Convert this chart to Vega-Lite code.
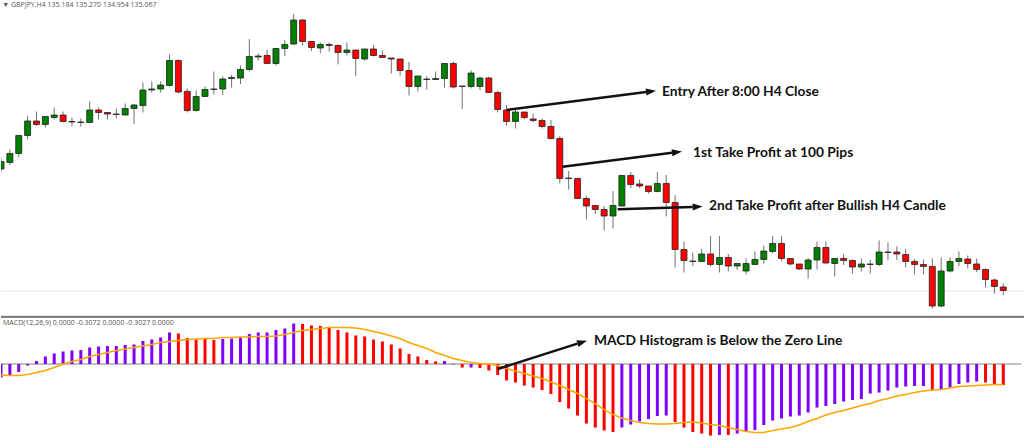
{
  "$schema": "https://vega.github.io/schema/vega-lite/v6.json",
  "background": "white",
  "padding": 0,
  "spacing": 0,
  "config": {"view": {"stroke": null}, "axis": {"disable": true}, "concat": {"spacing": 0}},
  "datasets": {
    "candles": [
      {"i":0,"o":138.075,"h":138.35,"l":138.0,"c":138.263},
      {"i":1,"o":138.238,"h":138.563,"l":138.175,"c":138.463},
      {"i":2,"o":138.463,"h":138.925,"l":138.363,"c":138.913},
      {"i":3,"o":138.913,"h":139.4,"l":138.813,"c":139.275},
      {"i":4,"o":139.275,"h":139.513,"l":139.15,"c":139.188},
      {"i":5,"o":139.188,"h":139.4,"l":139.113,"c":139.388},
      {"i":6,"o":139.363,"h":139.613,"l":139.313,"c":139.425},
      {"i":7,"o":139.425,"h":139.513,"l":139.238,"c":139.263},
      {"i":8,"o":139.25,"h":139.363,"l":139.138,"c":139.263},
      {"i":9,"o":139.238,"h":139.338,"l":139.138,"c":139.25},
      {"i":10,"o":139.238,"h":139.763,"l":139.238,"c":139.55},
      {"i":11,"o":139.55,"h":139.613,"l":139.313,"c":139.488},
      {"i":12,"o":139.488,"h":139.488,"l":139.313,"c":139.45},
      {"i":13,"o":139.438,"h":139.588,"l":139.338,"c":139.45},
      {"i":14,"o":139.425,"h":139.713,"l":139.425,"c":139.588},
      {"i":15,"o":139.588,"h":139.7,"l":139.2,"c":139.675},
      {"i":16,"o":139.663,"h":140.238,"l":139.488,"c":140.05},
      {"i":17,"o":140.05,"h":140.263,"l":139.988,"c":140.075},
      {"i":18,"o":140.075,"h":140.263,"l":139.988,"c":140.175},
      {"i":19,"o":140.163,"h":140.938,"l":140.138,"c":140.788},
      {"i":20,"o":140.788,"h":140.813,"l":139.963,"c":140.0},
      {"i":21,"o":140.013,"h":140.088,"l":139.488,"c":139.538},
      {"i":22,"o":139.538,"h":140.038,"l":139.513,"c":139.888},
      {"i":23,"o":139.888,"h":140.138,"l":139.888,"c":140.063},
      {"i":24,"o":140.063,"h":140.513,"l":139.938,"c":140.075},
      {"i":25,"o":140.075,"h":140.388,"l":139.925,"c":140.325},
      {"i":26,"o":140.338,"h":140.425,"l":140.113,"c":140.363},
      {"i":27,"o":140.35,"h":140.663,"l":140.2,"c":140.563},
      {"i":28,"o":140.563,"h":141.325,"l":140.513,"c":140.888},
      {"i":29,"o":140.875,"h":140.963,"l":140.788,"c":140.9},
      {"i":30,"o":140.913,"h":141.05,"l":140.713,"c":140.713},
      {"i":31,"o":140.713,"h":141.1,"l":140.663,"c":141.088},
      {"i":32,"o":141.088,"h":141.3,"l":140.9,"c":141.188},
      {"i":33,"o":141.2,"h":141.95,"l":141.175,"c":141.8},
      {"i":34,"o":141.8,"h":141.825,"l":141.163,"c":141.263},
      {"i":35,"o":141.263,"h":141.275,"l":141.025,"c":141.113},
      {"i":36,"o":141.1,"h":141.238,"l":140.963,"c":141.188},
      {"i":37,"o":141.188,"h":141.238,"l":141.013,"c":141.163},
      {"i":38,"o":141.163,"h":141.188,"l":140.688,"c":140.988},
      {"i":39,"o":140.988,"h":141.238,"l":140.913,"c":141.05},
      {"i":40,"o":141.05,"h":141.05,"l":140.4,"c":140.838},
      {"i":41,"o":140.825,"h":141.075,"l":140.788,"c":141.075},
      {"i":42,"o":141.075,"h":141.175,"l":140.888,"c":140.913},
      {"i":43,"o":140.913,"h":141.038,"l":140.85,"c":140.863},
      {"i":44,"o":140.85,"h":140.85,"l":140.463,"c":140.825},
      {"i":45,"o":140.825,"h":140.825,"l":140.413,"c":140.538},
      {"i":46,"o":140.538,"h":140.75,"l":139.913,"c":140.138},
      {"i":47,"o":140.138,"h":140.4,"l":140.013,"c":140.4},
      {"i":48,"o":140.313,"h":140.4,"l":140.063,"c":140.325},
      {"i":49,"o":140.313,"h":140.513,"l":140.3,"c":140.338},
      {"i":50,"o":140.338,"h":140.725,"l":140.113,"c":140.713},
      {"i":51,"o":140.713,"h":140.763,"l":140.088,"c":140.125},
      {"i":52,"o":140.15,"h":140.15,"l":139.575,"c":140.138},
      {"i":53,"o":140.138,"h":140.538,"l":140.088,"c":140.475},
      {"i":54,"o":140.138,"h":140.388,"l":140.05,"c":140.35},
      {"i":55,"o":140.35,"h":140.388,"l":139.988,"c":139.988},
      {"i":56,"o":139.988,"h":140.025,"l":139.488,"c":139.563},
      {"i":57,"o":139.55,"h":139.675,"l":139.15,"c":139.263},
      {"i":58,"o":139.263,"h":139.55,"l":139.088,"c":139.5},
      {"i":59,"o":139.5,"h":139.5,"l":139.325,"c":139.363},
      {"i":60,"o":139.325,"h":139.463,"l":139.238,"c":139.288},
      {"i":61,"o":139.288,"h":139.338,"l":139.088,"c":139.138},
      {"i":62,"o":139.138,"h":139.3,"l":138.813,"c":138.838},
      {"i":63,"o":138.838,"h":138.9,"l":137.713,"c":137.838},
      {"i":64,"o":137.85,"h":138.025,"l":137.563,"c":137.838},
      {"i":65,"o":137.838,"h":137.85,"l":137.325,"c":137.338},
      {"i":66,"o":137.338,"h":137.4,"l":136.813,"c":137.15},
      {"i":67,"o":137.163,"h":137.175,"l":136.95,"c":137.063},
      {"i":68,"o":137.063,"h":137.15,"l":136.538,"c":136.9},
      {"i":69,"o":136.9,"h":137.525,"l":136.588,"c":137.163},
      {"i":70,"o":137.15,"h":137.925,"l":137.15,"c":137.913},
      {"i":71,"o":137.913,"h":138.0,"l":137.6,"c":137.688},
      {"i":72,"o":137.7,"h":137.813,"l":137.6,"c":137.65},
      {"i":73,"o":137.65,"h":137.65,"l":137.463,"c":137.513},
      {"i":74,"o":137.513,"h":138.0,"l":137.488,"c":137.713},
      {"i":75,"o":137.713,"h":137.925,"l":136.888,"c":137.238},
      {"i":76,"o":137.238,"h":137.425,"l":135.613,"c":136.063},
      {"i":77,"o":136.063,"h":136.263,"l":135.488,"c":135.788},
      {"i":78,"o":135.763,"h":135.988,"l":135.65,"c":135.775},
      {"i":79,"o":135.763,"h":136.075,"l":135.75,"c":135.95},
      {"i":80,"o":135.95,"h":136.4,"l":135.638,"c":135.688},
      {"i":81,"o":135.688,"h":136.4,"l":135.488,"c":135.863},
      {"i":82,"o":135.863,"h":135.95,"l":135.513,"c":135.65},
      {"i":83,"o":135.65,"h":135.725,"l":135.55,"c":135.713},
      {"i":84,"o":135.525,"h":135.838,"l":135.438,"c":135.713},
      {"i":85,"o":135.688,"h":136.013,"l":135.688,"c":135.813},
      {"i":86,"o":135.813,"h":136.163,"l":135.713,"c":136.025},
      {"i":87,"o":136.013,"h":136.4,"l":135.963,"c":136.213},
      {"i":88,"o":136.213,"h":136.4,"l":135.763,"c":135.838},
      {"i":89,"o":135.838,"h":135.85,"l":135.663,"c":135.7},
      {"i":90,"o":135.7,"h":135.7,"l":135.55,"c":135.575},
      {"i":91,"o":135.575,"h":135.85,"l":135.338,"c":135.8},
      {"i":92,"o":135.8,"h":136.263,"l":135.563,"c":136.113},
      {"i":93,"o":136.113,"h":136.263,"l":135.713,"c":135.725},
      {"i":94,"o":135.713,"h":135.85,"l":135.388,"c":135.838},
      {"i":95,"o":135.838,"h":135.95,"l":135.675,"c":135.788},
      {"i":96,"o":135.788,"h":135.813,"l":135.463,"c":135.625},
      {"i":97,"o":135.625,"h":135.838,"l":135.513,"c":135.7},
      {"i":98,"o":135.688,"h":135.8,"l":135.463,"c":135.7},
      {"i":99,"o":135.688,"h":136.288,"l":135.65,"c":136.0},
      {"i":100,"o":135.988,"h":136.238,"l":135.8,"c":136.0},
      {"i":101,"o":136.0,"h":136.138,"l":135.8,"c":135.95},
      {"i":102,"o":135.938,"h":136.075,"l":135.613,"c":135.763},
      {"i":103,"o":135.763,"h":135.825,"l":135.438,"c":135.688},
      {"i":104,"o":135.688,"h":135.813,"l":135.438,"c":135.638},
      {"i":105,"o":135.638,"h":135.838,"l":134.588,"c":134.65},
      {"i":106,"o":134.65,"h":135.863,"l":134.613,"c":135.525},
      {"i":107,"o":135.525,"h":135.863,"l":135.488,"c":135.763},
      {"i":108,"o":135.763,"h":136.013,"l":135.65,"c":135.838},
      {"i":109,"o":135.825,"h":135.913,"l":135.588,"c":135.713},
      {"i":110,"o":135.7,"h":135.838,"l":135.5,"c":135.563},
      {"i":111,"o":135.563,"h":135.588,"l":135.113,"c":135.313},
      {"i":112,"o":135.3,"h":135.338,"l":134.963,"c":135.138},
      {"i":113,"o":135.125,"h":135.213,"l":134.925,"c":135.038}
    ],
    "macd": [
      {"i":0,"hist":-0.203,"signal":-0.165,"trend":"up"},
      {"i":1,"hist":-0.165,"signal":-0.173,"trend":"up"},
      {"i":2,"hist":-0.12,"signal":-0.173,"trend":"up"},
      {"i":3,"hist":-0.023,"signal":-0.158,"trend":"up"},
      {"i":4,"hist":0.045,"signal":-0.128,"trend":"up"},
      {"i":5,"hist":0.113,"signal":-0.098,"trend":"up"},
      {"i":6,"hist":0.158,"signal":-0.053,"trend":"up"},
      {"i":7,"hist":0.188,"signal":0,"trend":"up"},
      {"i":8,"hist":0.203,"signal":0.038,"trend":"up"},
      {"i":9,"hist":0.21,"signal":0.068,"trend":"up"},
      {"i":10,"hist":0.248,"signal":0.113,"trend":"up"},
      {"i":11,"hist":0.263,"signal":0.143,"trend":"up"},
      {"i":12,"hist":0.27,"signal":0.173,"trend":"up"},
      {"i":13,"hist":0.27,"signal":0.203,"trend":"up"},
      {"i":14,"hist":0.285,"signal":0.225,"trend":"up"},
      {"i":15,"hist":0.293,"signal":0.248,"trend":"up"},
      {"i":16,"hist":0.345,"signal":0.27,"trend":"up"},
      {"i":17,"hist":0.368,"signal":0.293,"trend":"up"},
      {"i":18,"hist":0.398,"signal":0.323,"trend":"up"},
      {"i":19,"hist":0.473,"signal":0.338,"trend":"up"},
      {"i":20,"hist":0.458,"signal":0.353,"trend":"down"},
      {"i":21,"hist":0.39,"signal":0.368,"trend":"down"},
      {"i":22,"hist":0.368,"signal":0.375,"trend":"down"},
      {"i":23,"hist":0.375,"signal":0.383,"trend":"down"},
      {"i":24,"hist":0.36,"signal":0.383,"trend":"down"},
      {"i":25,"hist":0.375,"signal":0.398,"trend":"up"},
      {"i":26,"hist":0.383,"signal":0.398,"trend":"up"},
      {"i":27,"hist":0.398,"signal":0.405,"trend":"up"},
      {"i":28,"hist":0.45,"signal":0.405,"trend":"up"},
      {"i":29,"hist":0.473,"signal":0.413,"trend":"up"},
      {"i":30,"hist":0.473,"signal":0.413,"trend":"up"},
      {"i":31,"hist":0.51,"signal":0.42,"trend":"up"},
      {"i":32,"hist":0.533,"signal":0.443,"trend":"up"},
      {"i":33,"hist":0.608,"signal":0.473,"trend":"up"},
      {"i":34,"hist":0.6,"signal":0.503,"trend":"down"},
      {"i":35,"hist":0.578,"signal":0.518,"trend":"down"},
      {"i":36,"hist":0.57,"signal":0.533,"trend":"down"},
      {"i":37,"hist":0.54,"signal":0.548,"trend":"down"},
      {"i":38,"hist":0.51,"signal":0.548,"trend":"down"},
      {"i":39,"hist":0.473,"signal":0.548,"trend":"down"},
      {"i":40,"hist":0.428,"signal":0.54,"trend":"down"},
      {"i":41,"hist":0.413,"signal":0.518,"trend":"down"},
      {"i":42,"hist":0.368,"signal":0.488,"trend":"down"},
      {"i":43,"hist":0.338,"signal":0.458,"trend":"down"},
      {"i":44,"hist":0.293,"signal":0.42,"trend":"down"},
      {"i":45,"hist":0.233,"signal":0.383,"trend":"down"},
      {"i":46,"hist":0.15,"signal":0.323,"trend":"down"},
      {"i":47,"hist":0.113,"signal":0.278,"trend":"down"},
      {"i":48,"hist":0.06,"signal":0.233,"trend":"down"},
      {"i":49,"hist":0.038,"signal":0.173,"trend":"down"},
      {"i":50,"hist":0.045,"signal":0.128,"trend":"up"},
      {"i":51,"hist":-0.008,"signal":0.083,"trend":"down"},
      {"i":52,"hist":-0.053,"signal":0.053,"trend":"down"},
      {"i":53,"hist":-0.053,"signal":0.023,"trend":"up"},
      {"i":54,"hist":-0.06,"signal":0.008,"trend":"down"},
      {"i":55,"hist":-0.098,"signal":0,"trend":"down"},
      {"i":56,"hist":-0.165,"signal":-0.023,"trend":"down"},
      {"i":57,"hist":-0.248,"signal":-0.068,"trend":"down"},
      {"i":58,"hist":-0.278,"signal":-0.105,"trend":"down"},
      {"i":59,"hist":-0.323,"signal":-0.143,"trend":"down"},
      {"i":60,"hist":-0.353,"signal":-0.18,"trend":"down"},
      {"i":61,"hist":-0.39,"signal":-0.218,"trend":"down"},
      {"i":62,"hist":-0.45,"signal":-0.27,"trend":"down"},
      {"i":63,"hist":-0.57,"signal":-0.323,"trend":"down"},
      {"i":64,"hist":-0.668,"signal":-0.383,"trend":"down"},
      {"i":65,"hist":-0.773,"signal":-0.443,"trend":"down"},
      {"i":66,"hist":-0.893,"signal":-0.518,"trend":"down"},
      {"i":67,"hist":-0.953,"signal":-0.593,"trend":"down"},
      {"i":68,"hist":-0.998,"signal":-0.683,"trend":"down"},
      {"i":69,"hist":-1.02,"signal":-0.758,"trend":"down"},
      {"i":70,"hist":-0.953,"signal":-0.81,"trend":"up"},
      {"i":71,"hist":-0.908,"signal":-0.848,"trend":"up"},
      {"i":72,"hist":-0.863,"signal":-0.878,"trend":"up"},
      {"i":73,"hist":-0.825,"signal":-0.893,"trend":"up"},
      {"i":74,"hist":-0.78,"signal":-0.9,"trend":"up"},
      {"i":75,"hist":-0.773,"signal":-0.9,"trend":"up"},
      {"i":76,"hist":-0.87,"signal":-0.893,"trend":"down"},
      {"i":77,"hist":-0.953,"signal":-0.878,"trend":"down"},
      {"i":78,"hist":-1.02,"signal":-0.87,"trend":"down"},
      {"i":79,"hist":-1.043,"signal":-0.885,"trend":"down"},
      {"i":80,"hist":-1.073,"signal":-0.908,"trend":"down"},
      {"i":81,"hist":-1.065,"signal":-0.923,"trend":"up"},
      {"i":82,"hist":-1.065,"signal":-0.953,"trend":"down"},
      {"i":83,"hist":-1.043,"signal":-0.983,"trend":"up"},
      {"i":84,"hist":-1.02,"signal":-1.013,"trend":"up"},
      {"i":85,"hist":-0.99,"signal":-1.028,"trend":"up"},
      {"i":86,"hist":-0.915,"signal":-1.028,"trend":"up"},
      {"i":87,"hist":-0.848,"signal":-0.998,"trend":"up"},
      {"i":88,"hist":-0.818,"signal":-0.975,"trend":"up"},
      {"i":89,"hist":-0.788,"signal":-0.953,"trend":"up"},
      {"i":90,"hist":-0.773,"signal":-0.915,"trend":"up"},
      {"i":91,"hist":-0.728,"signal":-0.863,"trend":"up"},
      {"i":92,"hist":-0.653,"signal":-0.818,"trend":"up"},
      {"i":93,"hist":-0.63,"signal":-0.765,"trend":"up"},
      {"i":94,"hist":-0.6,"signal":-0.728,"trend":"up"},
      {"i":95,"hist":-0.563,"signal":-0.698,"trend":"up"},
      {"i":96,"hist":-0.54,"signal":-0.66,"trend":"up"},
      {"i":97,"hist":-0.525,"signal":-0.623,"trend":"up"},
      {"i":98,"hist":-0.443,"signal":-0.593,"trend":"up"},
      {"i":99,"hist":-0.428,"signal":-0.548,"trend":"up"},
      {"i":100,"hist":-0.398,"signal":-0.518,"trend":"up"},
      {"i":101,"hist":-0.353,"signal":-0.48,"trend":"up"},
      {"i":102,"hist":-0.338,"signal":-0.458,"trend":"up"},
      {"i":103,"hist":-0.33,"signal":-0.428,"trend":"up"},
      {"i":104,"hist":-0.33,"signal":-0.405,"trend":"up"},
      {"i":105,"hist":-0.398,"signal":-0.39,"trend":"down"},
      {"i":106,"hist":-0.383,"signal":-0.383,"trend":"up"},
      {"i":107,"hist":-0.353,"signal":-0.36,"trend":"up"},
      {"i":108,"hist":-0.3,"signal":-0.338,"trend":"up"},
      {"i":109,"hist":-0.278,"signal":-0.33,"trend":"up"},
      {"i":110,"hist":-0.263,"signal":-0.323,"trend":"up"},
      {"i":111,"hist":-0.278,"signal":-0.315,"trend":"down"},
      {"i":112,"hist":-0.3,"signal":-0.308,"trend":"down"},
      {"i":113,"hist":-0.315,"signal":-0.308,"trend":"down"}
    ],
    "priceArrows": [
      {"x1":57.01,"p1":139.55,"x2":72.73,"p2":140.0},
      {"x1":63.33,"p1":138.133,"x2":75.65,"p2":138.48},
      {"x1":69.53,"p1":137.068,"x2":77.98,"p2":137.128}
    ],
    "priceNotes": [
      {"x":74.52,"p":140.0,"note":"Entry After 8:00 H4 Close"},
      {"x":78.02,"p":138.475,"note":"1st Take Profit at 100 Pips"},
      {"x":79.82,"p":137.15,"note":"2nd Take Profit after Bullish H4 Candle"}
    ],
    "macdArrows": [
      {"x1":56.0,"p1":-0.075,"x2":64.99,"p2":0.305}
    ],
    "macdNotes": [
      {"x":66.85,"p":0.345,"note":"MACD Histogram is Below the Zero Line"}
    ]
  },
  "vconcat": [
    {
      "width": 1024,
      "height": 318,
      "layer": [
        {
          "data": {"values": [{"bid": 135.025}]},
          "mark": {"type": "rule", "color": "#e6e6e6", "strokeWidth": 1, "clip": true},
          "encoding": {
            "y": {"field": "bid", "type": "quantitative", "scale": {"domain": [134.35, 142.3], "nice": false, "zero": false, "padding": 0}}
          }
        },
        {
          "data": {"values": [{"pane": 134.375}]},
          "mark": {"type": "rule", "color": "#7f7f7f", "strokeWidth": 2.5, "clip": true},
          "encoding": {
            "y": {"field": "pane", "type": "quantitative"}
          }
        },
        {
          "data": {"name": "candles"},
          "mark": {"type": "rule", "color": "#707070", "strokeWidth": 1, "clip": true},
          "encoding": {
            "x": {"field": "i", "type": "quantitative", "scale": {"domain": [0, 115.45], "nice": false, "zero": false, "padding": 0}},
            "y": {"field": "l", "type": "quantitative"},
            "y2": {"field": "h"}
          }
        },
        {
          "data": {"name": "candles"},
          "mark": {"type": "bar", "width": 6, "stroke": "#222222", "strokeWidth": 0.8, "clip": true},
          "encoding": {
            "x": {"field": "i", "type": "quantitative"},
            "y": {"field": "o", "type": "quantitative"},
            "y2": {"field": "c"},
            "color": {"condition": {"test": "datum.c >= datum.o", "value": "#008000"}, "value": "#ff0000"}
          }
        },
        {
          "data": {"name": "priceArrows"},
          "mark": {"type": "rule", "color": "#111111", "strokeWidth": 2.5},
          "encoding": {
            "x": {"field": "x1", "type": "quantitative"},
            "x2": {"field": "x2"},
            "y": {"field": "p1", "type": "quantitative"},
            "y2": {"field": "p2"}
          }
        },
        {
          "data": {"name": "priceArrows"},
          "transform": [{"calculate": "atan2((datum.x2 - datum.x1) * 8.87, (datum.p2 - datum.p1) / 0.025) * 180 / PI", "as": "bearing"}],
          "mark": {"type": "point", "filled": true, "opacity": 1, "color": "#111111", "size": 100, "shape": "M0,-2 L0.7,0 L-0.7,0 Z"},
          "encoding": {
            "x": {"field": "x2", "type": "quantitative"},
            "y": {"field": "p2", "type": "quantitative"},
            "angle": {"field": "bearing", "type": "quantitative", "scale": null}
          }
        },
        {
          "data": {"name": "priceNotes"},
          "mark": {"type": "text", "align": "left", "baseline": "middle", "font": "Lato", "fontWeight": "bold", "fontSize": 13.8, "color": "#111111"},
          "encoding": {
            "x": {"field": "x", "type": "quantitative"},
            "y": {"field": "p", "type": "quantitative"},
            "text": {"field": "note"}
          }
        },
        {
          "data": {"values": [
            {"x": 0.15, "p": 142.175, "label": "▼"},
            {"x": 1.12, "p": 142.175, "label": "GBPJPY,H4  135.184 135.270 134.954 135.067"}
          ]},
          "mark": {"type": "text", "align": "left", "baseline": "middle", "font": "Open Sans", "fontSize": 7, "color": "#555555"},
          "encoding": {
            "x": {"field": "x", "type": "quantitative"},
            "y": {"field": "p", "type": "quantitative"},
            "text": {"field": "label"}
          }
        }
      ]
    },
    {
      "width": 1024,
      "height": 122,
      "layer": [
        {
          "data": {"values": [{"x": 0, "x2": 115, "zero": 0}]},
          "mark": {"type": "rule", "color": "#808080", "strokeWidth": 1},
          "encoding": {
            "x": {"field": "x", "type": "quantitative", "scale": {"domain": [0, 115.45], "nice": false, "zero": false, "padding": 0}},
            "x2": {"field": "x2"},
            "y": {"field": "zero", "type": "quantitative", "scale": {"domain": [-1.14, 0.69], "nice": false, "zero": false, "padding": 0}}
          }
        },
        {
          "data": {"name": "macd"},
          "mark": {"type": "bar", "width": 3, "clip": true},
          "encoding": {
            "x": {"field": "i", "type": "quantitative"},
            "y": {"field": "hist", "type": "quantitative"},
            "y2": {"datum": 0},
            "color": {"field": "trend", "type": "nominal", "legend": null, "scale": {"domain": ["up", "down"], "range": ["#8000ff", "#ff0000"]}}
          }
        },
        {
          "data": {"name": "macd"},
          "mark": {"type": "line", "color": "#ffa500", "strokeWidth": 1.5, "clip": true},
          "encoding": {
            "x": {"field": "i", "type": "quantitative"},
            "y": {"field": "signal", "type": "quantitative"}
          }
        },
        {
          "data": {"name": "macdArrows"},
          "mark": {"type": "rule", "color": "#111111", "strokeWidth": 2.5},
          "encoding": {
            "x": {"field": "x1", "type": "quantitative"},
            "x2": {"field": "x2"},
            "y": {"field": "p1", "type": "quantitative"},
            "y2": {"field": "p2"}
          }
        },
        {
          "data": {"name": "macdArrows"},
          "transform": [{"calculate": "atan2((datum.x2 - datum.x1) * 8.87, (datum.p2 - datum.p1) / 0.015) * 180 / PI", "as": "bearing"}],
          "mark": {"type": "point", "filled": true, "opacity": 1, "color": "#111111", "size": 100, "shape": "M0,-2 L0.7,0 L-0.7,0 Z"},
          "encoding": {
            "x": {"field": "x2", "type": "quantitative"},
            "y": {"field": "p2", "type": "quantitative"},
            "angle": {"field": "bearing", "type": "quantitative", "scale": null}
          }
        },
        {
          "data": {"name": "macdNotes"},
          "mark": {"type": "text", "align": "left", "baseline": "middle", "font": "Lato", "fontWeight": "bold", "fontSize": 13.8, "color": "#111111"},
          "encoding": {
            "x": {"field": "x", "type": "quantitative"},
            "y": {"field": "p", "type": "quantitative"},
            "text": {"field": "note"}
          }
        },
        {
          "data": {"values": [{"x": 0.23, "p": 0.608, "label": "MACD(12,26,9) 0.0000 -0.3072 0.0000 -0.3027 0.0000"}]},
          "mark": {"type": "text", "align": "left", "baseline": "middle", "font": "Open Sans", "fontSize": 7, "color": "#555555"},
          "encoding": {
            "x": {"field": "x", "type": "quantitative"},
            "y": {"field": "p", "type": "quantitative"},
            "text": {"field": "label"}
          }
        }
      ]
    }
  ]
}
